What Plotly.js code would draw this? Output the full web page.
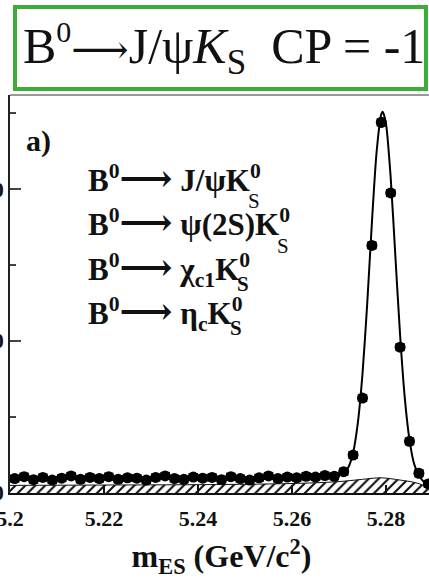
<!DOCTYPE html>
<html>
<head>
<meta charset="utf-8">
<script src="https://cdn.plot.ly/plotly-3.0.1.min.js"></script>
<style>
  html, body { margin: 0; padding: 0; background: #fff; overflow: hidden; }
  body { width: 429px; height: 579px; position: relative; }
  #chart { position: absolute; left: -60px; top: 0; width: 513px; height: 579px; }
</style>
</head>
<body>
<div id="chart"></div>
<script>
// m_ES bin centres (GeV/c^2), 2 MeV bins
const binCentres = [
  5.201, 5.203, 5.205, 5.207, 5.209, 5.211, 5.213, 5.215, 5.217, 5.219,
  5.221, 5.223, 5.225, 5.227, 5.229, 5.231, 5.233, 5.235, 5.237, 5.239,
  5.241, 5.243, 5.245, 5.247, 5.249, 5.251, 5.253, 5.255, 5.257, 5.259,
  5.261, 5.263, 5.265, 5.267, 5.269, 5.271, 5.273, 5.275, 5.277, 5.279,
  5.281, 5.283, 5.285, 5.287, 5.289
];
// events per bin
const counts = [
  190, 215, 175, 205, 170, 195, 225, 180, 205, 190,
  215, 180, 200, 195, 170, 205, 225, 190, 180, 210,
  195, 205, 175, 215, 190, 170, 200, 225, 190, 210,
  200, 220, 210, 230, 220, 280, 500, 1250, 3260, 4880,
  3950, 1920, 680, 260, 120
];
// statistical error per bin
const countErrors = [
  13.8, 14.7, 13.2, 14.3, 13.0, 14.0, 15.0, 13.4, 14.3, 13.8,
  14.7, 13.4, 14.1, 14.0, 13.0, 14.3, 15.0, 13.8, 13.4, 14.5,
  14.0, 14.3, 13.2, 14.7, 13.8, 13.0, 14.1, 15.0, 13.8, 14.5,
  14.1, 14.8, 14.5, 15.2, 14.8, 16.7, 22.4, 35.4, 57.1, 69.9,
  62.8, 43.8, 26.1, 16.1, 11.0
];
// half bin width (GeV/c^2)
const halfBin = 0.001;

// total fit (signal + background)
const fitX = [
  5.200, 5.220, 5.240, 5.255, 5.265, 5.270, 5.271, 5.272, 5.273, 5.274,
  5.275, 5.276, 5.277, 5.278, 5.279, 5.2793, 5.280, 5.281, 5.282, 5.283,
  5.284, 5.285, 5.286, 5.287, 5.288, 5.289, 5.290
];
const fitY = [
  195, 195, 198, 202, 210, 230, 260, 340, 530, 920,
  1570, 2490, 3560, 4490, 4990, 5020, 4860, 4150, 3110, 2080,
  1250, 700, 380, 230, 150, 100, 0
];

// background component (hatched)
const bkgX = [5.200, 5.220, 5.240, 5.250, 5.260, 5.265, 5.270, 5.275, 5.279, 5.283, 5.286, 5.288, 5.2895, 5.290];
const bkgY = [100, 105, 110, 115, 125, 135, 150, 180, 200, 170, 140, 100, 50, 0];

const xTicks = [5.2, 5.22, 5.24, 5.26, 5.28];
const xTickText = ['5.2', '5.22', '5.24', '5.26', '5.28'];

const serif = 'Liberation Serif, Times New Roman, serif';
const arrowOf = (size) => '<span style="font-family:DejaVu Serif;font-size:' + size + 'px">⟶</span>';

const traces = [
  {
    x: bkgX, y: bkgY, type: 'scatter', mode: 'lines',
    line: { color: '#111', width: 1, shape: 'spline' },
    fill: 'tozeroy',
    fillcolor: 'rgba(255,255,255,0)',
    fillpattern: { shape: '/', fgcolor: '#111', bgcolor: '#fff', size: 7, solidity: 0.3 },
    hoverinfo: 'skip', showlegend: false
  },
  {
    x: fitX, y: fitY, type: 'scatter', mode: 'lines',
    line: { color: '#000', width: 2, shape: 'spline', smoothing: 0.7 },
    hoverinfo: 'skip', showlegend: false
  },
  {
    x: binCentres, y: counts, type: 'scatter', mode: 'markers',
    marker: { color: '#000', size: 11 },
    error_x: { type: 'constant', value: halfBin, color: '#000', thickness: 8, width: 0 },
    error_y: { type: 'data', array: countErrors, color: '#000', thickness: 3, width: 0 },
    showlegend: false
  }
];

// pixel helpers for placing paper-referenced items
const W = 513, H = 579, ML = 70, MR = 20, MT = 95, MB = 86;
const PW = W - ML - MR, PH = H - MT - MB;
const px = (x) => (x + 60 - ML) / PW;      // page x -> paper x
const py = (y) => (H - MB - y) / PH;       // page y -> paper y

// decay modes: main text, K_S subscript drawn under the superscript
const gap = ' ';
const decayLines = [
  'B<sup>0</sup>' + arrowOf(37) + gap + 'J/ψK<sup>0</sup>',
  'B<sup>0</sup>' + arrowOf(37) + gap + 'ψ(2S)K<sup>0</sup>',
  'B<sup>0</sup>' + arrowOf(37) + gap + 'χ<sub>c1</sub>K<sup>0</sup>',
  'B<sup>0</sup>' + arrowOf(37) + gap + 'η<sub>c</sub>K<sup>0</sup>'
];
const decayY = [178, 222, 268, 312];
const subY = [201, 246, 284, 328];
const subBold = [false, false, true, true];
const decayFont = 31;

const annotations = [
  {
    text: 'B<sup><span style="font-size:30px">0</span></sup>' + arrowOf(40) +
          'J/ψ<i>K</i><sub>S</sub>\u00a0\u00a0CP = -1',
    xref: 'paper', yref: 'paper', x: px(224), y: py(48),
    xanchor: 'center', yanchor: 'middle', showarrow: false,
    font: { family: serif, size: 50, color: '#111' }
  },
  {
    text: '<b>a)</b>', xref: 'paper', yref: 'paper', x: px(24), y: py(141),
    xanchor: 'left', yanchor: 'middle', showarrow: false,
    font: { family: serif, size: 30, color: '#111' }
  }
];
const firstDecay = annotations.length;
decayLines.forEach((t, i) => {
  annotations.push({
    text: '<b>' + t + '</b>', xref: 'paper', yref: 'paper', x: px(86), y: py(decayY[i]),
    xanchor: 'left', yanchor: 'middle', showarrow: false,
    font: { family: serif, size: decayFont, color: '#111' }
  });
});

const layout = {
  width: W, height: H,
  margin: { l: ML, r: MR, t: MT, b: MB },
  paper_bgcolor: '#fff', plot_bgcolor: '#fff',
  font: { family: serif, color: '#111' },
  xaxis: {
    range: [5.2, 5.29], tickvals: xTicks, ticktext: xTickText,
    ticks: 'inside', ticklen: 8, tickwidth: 1.5, tickcolor: '#111',
    showline: true, linecolor: '#111', linewidth: 2,
    showgrid: false, zeroline: false,
    ticklabelstandoff: 5,
    tickfont: { family: serif, size: 22, color: '#111', weight: 'bold' },
    title: { text: '<b>m<sub>ES</sub> (GeV/c<sup>2</sup>)</b>', standoff: 15,
             font: { family: serif, size: 32, color: '#111' } }
  },
  yaxis: {
    range: [0, 5240], tickvals: [0, 2000, 4000],
    ticks: 'inside', ticklen: 11, tickwidth: 1.5, tickcolor: '#444',
    minor: { tickvals: [1000, 3000, 5000], ticks: 'inside', ticklen: 6, tickwidth: 1.5, tickcolor: '#444' },
    showline: true, linecolor: '#222', linewidth: 2,
    showgrid: false, zeroline: false,
    tickfont: { family: serif, size: 21, color: '#111', weight: 'bold' }
  },
  shapes: [
    { type: 'line', xref: 'paper', yref: 'paper', x0: 0, x1: 1, y0: 1, y1: 1,
      line: { color: '#999', width: 2 } },
    { type: 'rect', xref: 'paper', yref: 'paper',
      x0: px(15), x1: px(426), y0: py(89), y1: py(7),
      line: { color: '#3cae37', width: 4 }, fillcolor: 'rgba(0,0,0,0)' }
  ],
  annotations: annotations
};

Plotly.newPlot('chart', traces, layout, { displayModeBar: false, staticPlot: true }).then((gd) => {
  // stack the S subscript beneath each K's superscript 0
  const texts = gd.querySelectorAll('.annotation-text');
  const extra = [];
  decayLines.forEach((t, i) => {
    const el = texts[firstDecay + i];
    if (!el) return;
    const r = el.getBoundingClientRect();
    extra.push({
      text: subBold[i] ? '<b>S</b>' : 'S', xref: 'paper', yref: 'paper',
      x: px(r.right + 1), y: py(subY[i]),
      xanchor: 'right', yanchor: 'middle', showarrow: false,
      font: { family: serif, size: 21, color: '#111' }
    });
  });
  return Plotly.relayout(gd, { annotations: annotations.concat(extra) });
});
</script>
</body>
</html>
